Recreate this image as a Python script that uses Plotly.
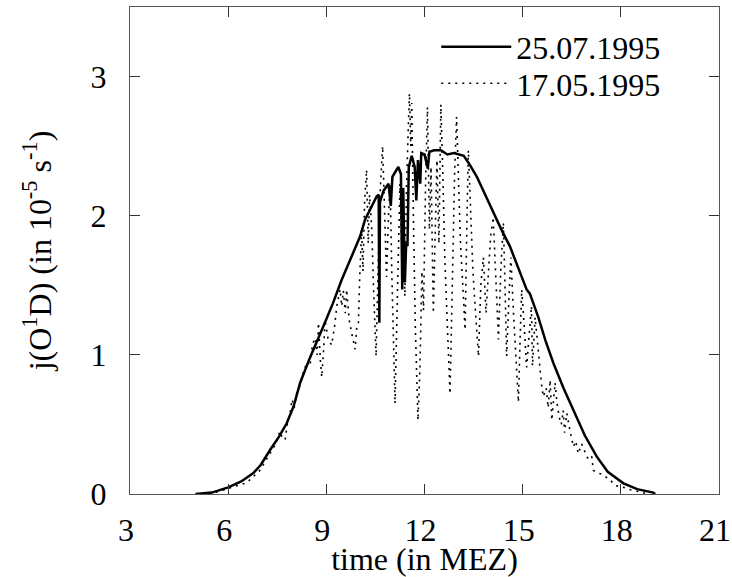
import plotly.graph_objects as go

# 25.07.1995 (solid)
t_jul = [5.0, 5.5, 6.0, 6.4, 6.77, 7.0, 7.28, 7.55, 7.79, 8.0, 8.2, 8.5, 8.9, 9.2, 9.47,
         9.75, 10.03, 10.18, 10.35, 10.54, 10.6, 10.62, 10.64, 10.75, 10.9, 10.97, 11.02,
         11.2, 11.28, 11.32, 11.35, 11.4, 11.44, 11.48, 11.52, 11.61, 11.7, 11.75, 11.8,
         11.87, 11.9, 12.0, 12.1, 12.15, 12.3, 12.5, 12.7, 12.9, 13.2, 13.4, 13.6, 13.85,
         14.1, 14.35, 14.61, 14.85, 15.12, 15.22, 15.48, 15.7, 15.94, 16.25, 16.55, 16.9,
         17.26, 17.6, 18.08, 18.5, 18.99, 19.05]
j_jul = [0.0, 0.01, 0.048, 0.09, 0.15, 0.21, 0.316, 0.41, 0.508, 0.63, 0.80, 0.98, 1.2, 1.37, 1.54,
         1.70, 1.85, 1.97, 2.05, 2.14, 2.15, 1.23, 2.1, 2.18, 2.23, 2.07, 2.28,
         2.35, 2.30, 1.47, 2.2, 1.52, 1.8, 1.78, 2.35, 2.43, 2.35, 2.11, 2.4,
         2.23, 2.45, 2.44, 2.34, 2.46, 2.47, 2.47, 2.44, 2.45, 2.43, 2.36, 2.28, 2.15,
         2.02, 1.90, 1.78, 1.63, 1.47, 1.44, 1.27, 1.10, 0.94, 0.76, 0.60, 0.42,
         0.27, 0.16, 0.077, 0.035, 0.01, 0.0]

# 17.05.1995 (dotted)
t_may = [5.2, 5.6, 6.0, 6.56, 6.97, 7.28, 7.45, 7.58, 7.66, 7.74, 7.82, 7.89, 7.95, 8.02, 8.09,
         8.2, 8.3, 8.42, 8.5, 8.58, 8.66, 8.72, 8.76, 8.82, 8.86, 8.92, 8.96, 9.05, 9.16, 9.25,
         9.32, 9.42, 9.47, 9.52, 9.58, 9.62, 9.7, 9.78, 9.88, 9.93, 9.98, 10.02, 10.08, 10.12,
         10.17, 10.23, 10.28, 10.32, 10.39, 10.44, 10.48, 10.52, 10.58, 10.65, 10.72, 10.78,
         10.84, 10.9, 10.95, 11.0, 11.05, 11.10, 11.16, 11.25, 11.3, 11.35, 11.40, 11.45, 11.5,
         11.54, 11.58, 11.61, 11.66, 11.72, 11.8, 11.86, 11.92, 11.97, 12.03, 12.09, 12.15,
         12.2, 12.27, 12.33, 12.38, 12.44, 12.5, 12.56, 12.62, 12.7, 12.78, 12.85, 12.92,
         12.98, 13.04, 13.1, 13.17, 13.24, 13.3, 13.34, 13.4, 13.48, 13.56, 13.65, 13.72,
         13.8, 13.88, 13.95, 14.02, 14.1, 14.18, 14.26, 14.33, 14.41, 14.46, 14.51, 14.58,
         14.64, 14.72, 14.8, 14.87, 14.92, 14.97, 15.05, 15.12, 15.2, 15.27, 15.3, 15.38,
         15.45, 15.52, 15.58, 15.63, 15.72, 15.78, 15.84, 15.89, 15.94, 15.99, 16.05, 16.12,
         16.18, 16.24, 16.28, 16.35, 16.45, 16.55, 16.62, 16.70, 16.80, 16.9, 17.0, 17.11,
         17.16, 17.31, 17.45, 17.67, 17.85, 18.05, 18.3, 18.5, 18.75]
j_may = [0.0, 0.01, 0.04, 0.08, 0.17, 0.29, 0.36, 0.45, 0.40, 0.39, 0.52, 0.58, 0.68, 0.62, 0.72,
         0.78, 0.88, 0.95, 0.92, 1.08, 1.12, 1.0, 1.23, 0.95, 0.84, 1.05, 1.25, 1.12, 1.07, 1.2,
         1.35, 1.47, 1.35, 1.46, 1.30, 1.47, 1.25, 1.15, 1.04, 1.2, 1.23, 1.56, 1.9, 1.6,
         2.1, 2.33, 1.8, 2.15, 1.9, 1.5, 1.2, 0.99, 1.6, 2.2, 2.50, 2.0,
         1.56, 2.0, 2.23, 1.6, 1.0, 0.65, 1.3, 2.23, 1.8, 2.0, 1.42, 2.2, 2.6,
         2.88, 2.5, 2.81, 2.0, 1.2, 0.53, 0.9, 1.6, 1.32, 2.2, 2.78, 1.9,
         2.35, 1.30, 1.9, 2.4, 1.8, 2.80, 2.3, 1.7, 1.2, 0.72, 1.5, 2.3,
         2.71, 2.2, 1.8, 1.5, 1.18, 2.0, 2.47, 2.1, 1.6, 1.3, 0.99, 1.5,
         1.7, 1.3, 1.6, 1.85, 1.99, 1.5, 1.11, 1.6, 1.95, 1.5, 0.99, 1.4,
         1.7, 1.3, 0.9, 0.66, 1.1, 1.47, 1.2, 0.91, 1.15, 1.35, 0.92, 1.27,
         1.10, 0.90, 0.78, 0.70, 0.76, 0.62, 0.82, 0.53, 0.70, 0.80, 0.65, 0.55,
         0.50, 0.60, 0.44, 0.58, 0.45, 0.34, 0.38, 0.29, 0.36, 0.30, 0.25, 0.27,
         0.17, 0.15, 0.14, 0.10, 0.06, 0.05, 0.03, 0.02, 0.005]

x_ticks = [3, 6, 9, 12, 15, 18, 21]
y_ticks = [0, 1, 2, 3]

FONT = "'Liberation Serif', 'Times New Roman', Times, serif"

fig = go.Figure()
fig.add_trace(go.Scatter(x=t_jul, y=j_jul, mode="lines", name="25.07.1995",
                         line=dict(color="black", width=2.5), legend="legend"))
fig.add_trace(go.Scatter(x=t_may, y=j_may, mode="lines", name="17.05.1995",
                         line=dict(color="black", width=1.6, dash="2px,5px"), legend="legend2"))

axis_common = dict(showline=True, linecolor="#555", linewidth=1, mirror="ticks",
                   ticks="inside", ticklen=10, tickcolor="#333", tickwidth=1,
                   showgrid=False, zeroline=False, automargin=False,
                   ticklabeloverflow="allow",
                   tickfont=dict(family=FONT, size=32, color="black"))

fig.update_xaxes(range=[3, 21], tickvals=x_ticks, ticktext=[str(v) for v in x_ticks],
                 title=dict(text="time (in MEZ)", font=dict(family=FONT, size=32, color="black")),
                 ticklabelstandoff=8, ticklabelshift=-4, **axis_common)
fig.update_yaxes(range=[0, 3.5], tickvals=y_ticks, ticktext=[str(v) for v in y_ticks],
                 title=dict(text="j(O<sup>1</sup>D) (in 10<sup>-5</sup> s<sup>-1</sup>)",
                            font=dict(family=FONT, size=32, color="black"), standoff=29),
                 ticklabelstandoff=16, **axis_common)

leg_common = dict(xanchor="left", yanchor="middle", bgcolor="rgba(0,0,0,0)", borderwidth=0,
                  font=dict(family=FONT, size=32, color="black"), itemwidth=70)

fig.update_layout(
    width=732, height=577,
    margin=dict(l=130, r=13, t=7, b=83),
    paper_bgcolor="white", plot_bgcolor="white",
    font=dict(family=FONT, size=32, color="black"),
    showlegend=True,
    legend=dict(x=0.52, y=0.918, **leg_common),
    legend2=dict(x=0.52, y=0.843, **leg_common),
)

fig.write_html("out.html", config={"displayModeBar": False},
               post_script="document.body.style.margin='0';")
